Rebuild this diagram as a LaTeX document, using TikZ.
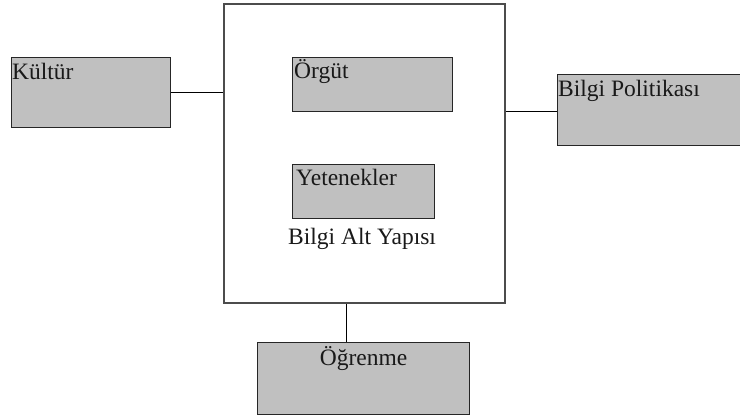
\documentclass[tikz,border=0pt]{standalone}
\usepackage{fontspec}
\setmainfont{LiberationSerif}[Extension=.ttf, UprightFont=*-Regular, BoldFont=*-Bold]
\definecolor{boxgray}{RGB}{192,192,192}
\begin{document}
\begin{tikzpicture}[x=1pt,y=-1pt,
  box/.style={draw=black!85, line width=1pt, fill=boxgray, inner sep=0pt, anchor=north west},
  frame/.style={draw=black!70, line width=1.6pt, fill=white, inner sep=0pt, anchor=north west},
  lbl/.style={inner sep=0pt, anchor=base west, font=\rmfamily\fontsize{23.5}{27}\selectfont, text=black!90},
  link/.style={draw=black, line width=1pt}]
\useasboundingbox (0,0) rectangle (740,417);

% knowledge infrastructure frame and its parts
\node[frame, minimum width=281pt, minimum height=299pt] (central) at (223,3) {};
\node[box, minimum width=160pt, minimum height=54pt] (orgut) at (292,57) {};
\node[box, minimum width=142pt, minimum height=54pt] (yetenek) at (292,164) {};

% surrounding factors
\node[box, minimum width=159pt, minimum height=70pt] (kultur) at (11,57) {};
\node[box, minimum width=200pt, minimum height=71pt] (politika) at (557,74) {};
\node[box, minimum width=212pt, minimum height=72pt] (ogrenme) at (257,342) {};

% labels
\node[lbl] (tkultur) at ([xshift=1pt,yshift=-23pt]kultur.north west) {Kültür};
\node[lbl] (torgut) at ([xshift=2pt,yshift=-22pt]orgut.north west) {Örgüt};
\node[lbl] (tyetenek) at ([xshift=4pt,yshift=-22pt]yetenek.north west) {Yetenekler};
\node[lbl] (tpolitika) at ([xshift=1pt,yshift=-23pt]politika.north west) {Bilgi Politikası};
\node[lbl, anchor=base] (togrenme) at ([yshift=-23pt]ogrenme.north) {Öğrenme};
\node[lbl] (taltyapi) at ([xshift=-4pt,yshift=-26pt]yetenek.south west) {Bilgi Alt Yapısı};

% connector end points
\coordinate (pjoin) at ([yshift=-1.5pt]politika.west);
\coordinate (ojoin) at ([xshift=-17pt]ogrenme.north);

% connectors
\draw[link] (kultur.east) -- (central.west |- kultur.east);
\draw[link] (pjoin) -- (central.east |- pjoin);
\draw[link] (ojoin) -- (ojoin |- central.south);
\end{tikzpicture}
\end{document}
